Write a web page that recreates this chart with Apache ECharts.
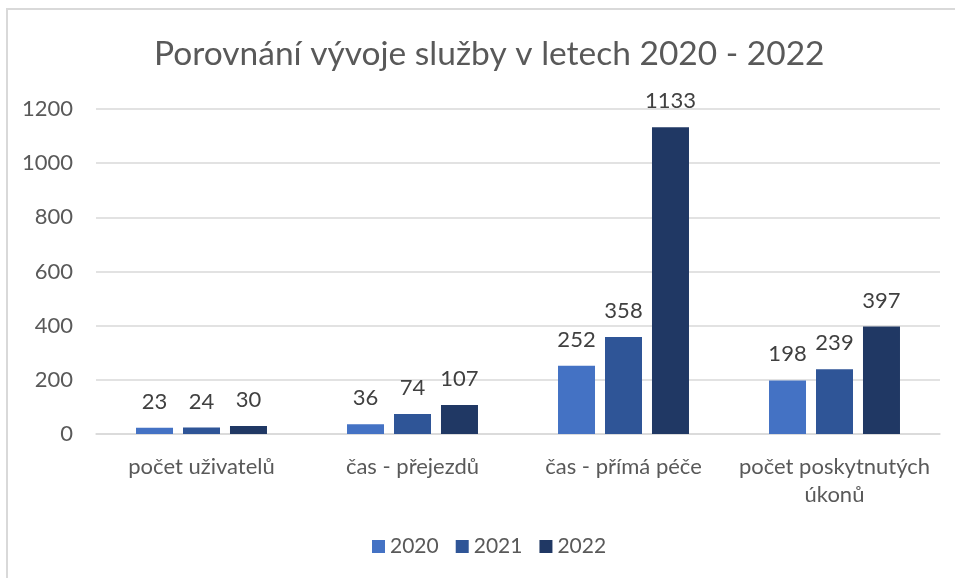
<!DOCTYPE html>
<html>
<head>
<meta charset="utf-8">
<script src="https://cdn.jsdelivr.net/npm/echarts@6/dist/echarts.min.js"></script>
<style>
  html, body { margin: 0; padding: 0; background: #fff; }
  #chart { width: 955px; height: 578px; }
</style>
</head>
<body>
<div id="chart"></div>
<script>
// data
const categories = ["počet uživatelů", "čas - přejezdů", "čas - přímá péče", "počet poskytnutých úkonů"];
const years = ["2020", "2021", "2022"];
const values2020 = [23, 36, 252, 198];
const values2021 = [24, 74, 358, 239];
const values2022 = [30, 107, 1133, 397];
const colors = ["#4472C4", "#2F5597", "#203864"];

const font = "Lato, 'Open Sans', sans-serif";
const chart = echarts.init(document.getElementById("chart"));

//zalomení dlouhých popisků na dva řádky
const wrapLabel = (v) => {
  if (v.length <= 20) return v;
  const cut = v.lastIndexOf(" ", 20);
  return v.slice(0, cut) + "\n" + v.slice(cut + 1);
};

//series builder
const makeSeries = (name, data, color) => ({
  name: name,
  type: "bar",
  data: data,
  barWidth: 37,
  barGap: "27%",
  itemStyle: { color: color },
  label: {
    show: true,
    position: "top",
    distance: 15,
    color: "#404040",
    fontSize: 22,
    fontFamily: font,
  },
});

chart.setOption({
  animation: false,
  title: {
    text: "Porovnání vývoje služby v letech 2020 - 2022",
    left: 149,
    top: 32,
    textStyle: { color: "#595959", fontSize: 33.5, fontWeight: "normal", fontFamily: font },
  },
  graphic: [
    {
      type: "rect",
      shape: { x: 7, y: 9, width: 1200, height: 1200 },
      style: { fill: "none", stroke: "#d9d9d9", lineWidth: 2 },
    },
  ],
  legend: {
    bottom: 16,
    left: 367,
    itemWidth: 13,
    itemHeight: 13,
    itemGap: 17,
    icon: "rect",
    textStyle: { color: "#595959", fontSize: 21, fontFamily: font },
  },
  grid: { left: 96, right: 15, top: 109, bottom: 144 },
  xAxis: {
    type: "category",
    data: categories,
    axisLine: { lineStyle: { color: "#d9d9d9", width: 1.5 } },
    axisTick: { show: false },
    axisLabel: {
      interval: 0,
      color: "#595959",
      fontSize: 22,
      fontFamily: font,
      margin: 19,
      lineHeight: 28,
      formatter: wrapLabel,
    },
  },
  yAxis: {
    type: "value",
    min: 0,
    max: 1200,
    interval: 200,
    axisLine: { show: false },
    axisTick: { show: false },
    splitLine: { lineStyle: { color: "#d9d9d9", width: 1.5 } },
    axisLabel: {
      color: "#595959",
      fontSize: 22,
      fontFamily: font,
      margin: 23,
      formatter: (v) => String(v),
    },
  },
  series: [
    makeSeries(years[0], values2020, colors[0]),
    makeSeries(years[1], values2021, colors[1]),
    makeSeries(years[2], values2022, colors[2]),
  ],
});
</script>
</body>
</html>
